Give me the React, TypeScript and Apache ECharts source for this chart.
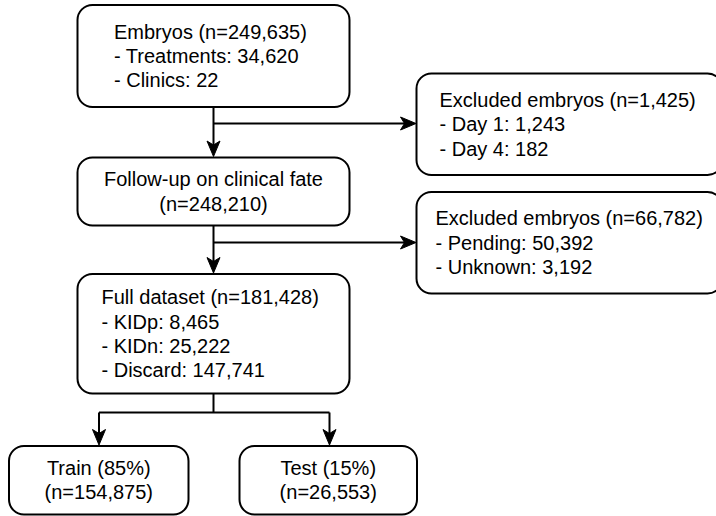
import React, { useEffect, useRef } from "react";
import * as echarts from "echarts";

// ---- content (data) ----
const boxLabels: string[][] = [
  ["Embryos (n=249,635)", "- Treatments: 34,620", "- Clinics: 22"],
  ["Follow-up on clinical fate", "(n=248,210)"],
  ["Excluded embryos (n=1,425)", "- Day 1: 1,243", "- Day 4: 182"],
  ["Excluded embryos (n=66,782)", "- Pending: 50,392", "- Unknown: 3,192"],
  ["Full dataset (n=181,428)", "- KIDp: 8,465", "- KIDn: 25,222", "- Discard: 147,741"],
  ["Train (85%)", "(n=154,875)"],
  ["Test (15%)", "(n=26,553)"],
];

// ---- layout (positions / sizes) ----
type Box = { x: number; y: number; w: number; h: number; align: "left" | "center"; tx?: number };
const boxes: Box[] = [
  { x: 77.5, y: 5, w: 272, h: 102, align: "left", tx: 114 },
  { x: 77.5, y: 157.5, w: 272, h: 68, align: "center" },
  { x: 416.5, y: 73.5, w: 306, h: 101.5, align: "left", tx: 439.5 },
  { x: 416.5, y: 192, w: 306, h: 101.5, align: "left", tx: 435.5 },
  { x: 77.5, y: 274, w: 272, h: 119.5, align: "left", tx: 101.5 },
  { x: 9, y: 446, w: 179.5, h: 68.5, align: "center" },
  { x: 239.5, y: 446, w: 177.5, h: 68.5, align: "center" },
];

const FONT = '"Liberation Sans", Arial, Helvetica, sans-serif';
const STROKE = "#000";
const LW = 2;

function arrowDown(x: number, tip: number) {
  return {
    type: "polygon",
    shape: { points: [[x, tip], [x - 6.5, tip - 15.5], [x, tip - 11.5], [x + 6.5, tip - 15.5]] },
    style: { fill: STROKE, stroke: STROKE, lineWidth: 1 },
  };
}
function arrowRight(tip: number, y: number) {
  return {
    type: "polygon",
    shape: { points: [[tip, y], [tip - 15.5, y - 6.5], [tip - 11.5, y], [tip - 15.5, y + 6.5]] },
    style: { fill: STROKE, stroke: STROKE, lineWidth: 1 },
  };
}
function seg(x1: number, y1: number, x2: number, y2: number) {
  return { type: "line", shape: { x1, y1, x2, y2 }, style: { stroke: STROKE, lineWidth: LW } };
}

export default function App() {
  const ref = useRef<HTMLDivElement>(null);
  useEffect(() => {
    if (!ref.current) return;
    const chart = echarts.init(ref.current, null, { renderer: "svg" });
    const els: any[] = [];

    boxes.forEach((b, i) => {
      els.push({
        type: "rect",
        shape: { x: b.x, y: b.y, width: b.w, height: b.h, r: 15 },
        style: { fill: "#fff", stroke: STROKE, lineWidth: LW },
      });
      const cy = b.y + b.h / 2;
      els.push({
        type: "text",
        x: b.align === "center" ? b.x + b.w / 2 : b.tx,
        y: cy,
        style: {
          text: boxLabels[i].join("\n"),
          font: `20px ${FONT}`,
          fill: "#000",
          align: b.align,
          verticalAlign: "middle",
          lineHeight: 24.3,
        },
      });
    });

    const cx = 213.5;
    // box1 -> box2, branch to box3
    els.push(seg(cx, 107, cx, 145));
    els.push(arrowDown(cx, 156.5));
    els.push(seg(cx, 123.5, 405, 123.5));
    els.push(arrowRight(416, 123.5));
    // box2 -> box5, branch to box4
    els.push(seg(cx, 225.5, cx, 262));
    els.push(arrowDown(cx, 273));
    els.push(seg(cx, 242.5, 405, 242.5));
    els.push(arrowRight(416, 242.5));
    // box5 -> train / test
    els.push(seg(cx, 393.5, cx, 412.5));
    els.push(seg(99, 412.5, 329.5, 412.5));
    els.push(seg(99, 412.5, 99, 434));
    els.push(arrowDown(99, 445));
    els.push(seg(329.5, 412.5, 329.5, 434));
    els.push(arrowDown(329.5, 445));

    chart.setOption({
      animation: false,
      backgroundColor: "#fff",
      graphic: { elements: els },
    });
    return () => chart.dispose();
  }, []);
  return (
    <div
      ref={ref}
      style={{ position: "fixed", left: 0, top: 0, width: 716, height: 516 }}
    />
  );
}
